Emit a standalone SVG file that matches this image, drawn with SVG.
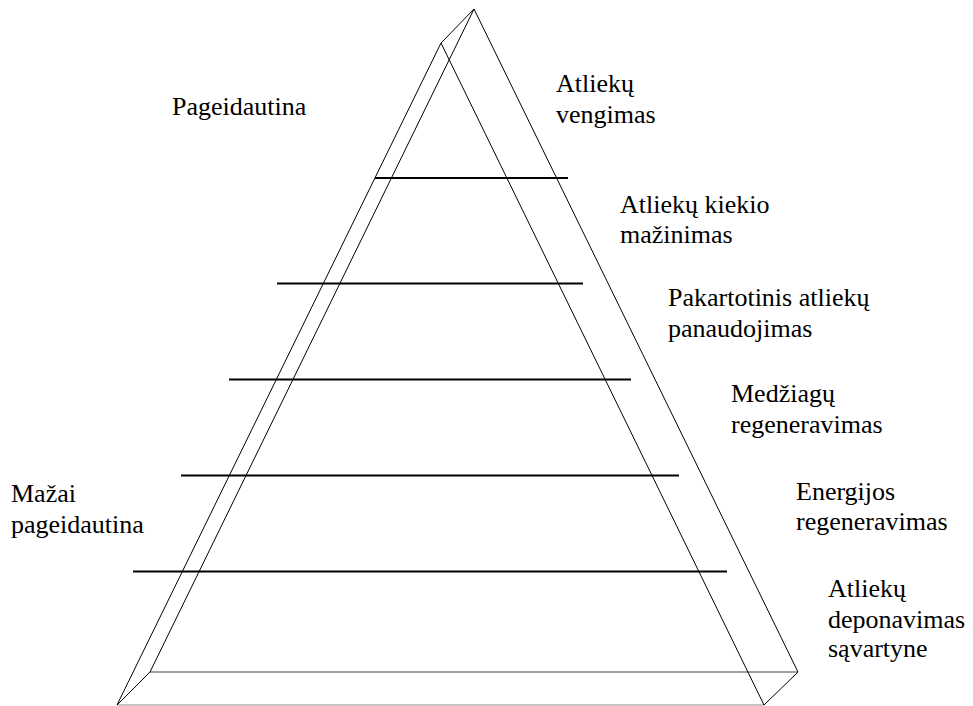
<svg xmlns="http://www.w3.org/2000/svg" width="973" height="706" viewBox="0 0 973 706">
<style>
.edge{stroke:#000;stroke-width:1;fill:none}
.hidden{stroke:#808080;stroke-width:1.5;fill:none}
.front{stroke:#b0b0b0;stroke-width:1.5;fill:none}
.level{stroke:#000;stroke-width:2;fill:none}
.lbl{font-family:'Liberation Serif','Times New Roman',serif;font-size:26px;fill:#000}
</style>
<rect width="973" height="706" fill="#fff"/>
<g id="pyramid">
<line class="hidden" x1="150" y1="672" x2="798" y2="672"/>
<line class="front" x1="117" y1="705" x2="764" y2="705"/>
<line class="edge" x1="474" y1="9" x2="441" y2="43"/>
<line class="edge" x1="474" y1="9" x2="150" y2="672"/>
<line class="edge" x1="474" y1="9" x2="798" y2="672"/>
<line class="edge" x1="441" y1="43" x2="117" y2="705"/>
<line class="edge" x1="441" y1="43" x2="764" y2="705"/>
<line class="edge" x1="117" y1="705" x2="150" y2="672"/>
<line class="edge" x1="764" y1="705" x2="798" y2="672"/>
</g>
<g id="levels">
<line class="level" x1="375" y1="178" x2="568" y2="178"/>
<line class="level" x1="277" y1="283.5" x2="583" y2="283.5"/>
<line class="level" x1="229" y1="379.5" x2="631" y2="379.5"/>
<line class="level" x1="181" y1="475.5" x2="679" y2="475.5"/>
<line class="level" x1="133" y1="571.5" x2="727" y2="571.5"/>
</g>
<g id="label-pageidautina"><text class="lbl" x="172" y="115">Pageidautina</text></g>
<g id="label-maziai"><text class="lbl" x="11" y="502">Mažai</text><text class="lbl" x="11" y="533">pageidautina</text></g>
<g id="label-vengimas"><text class="lbl" x="556" y="92">Atliekų</text><text class="lbl" x="556" y="123">vengimas</text></g>
<g id="label-mazinimas"><text class="lbl" x="620" y="213">Atliekų kiekio</text><text class="lbl" x="620" y="243">mažinimas</text></g>
<g id="label-panaudojimas"><text class="lbl" x="668" y="306">Pakartotinis atliekų</text><text class="lbl" x="668" y="337">panaudojimas</text></g>
<g id="label-medziagu"><text class="lbl" x="731" y="402">Medžiagų</text><text class="lbl" x="731" y="433">regeneravimas</text></g>
<g id="label-energijos"><text class="lbl" x="796" y="500">Energijos</text><text class="lbl" x="796" y="530">regeneravimas</text></g>
<g id="label-deponavimas"><text class="lbl" x="828" y="597">Atliekų</text><text class="lbl" x="828" y="628">deponavimas</text><text class="lbl" x="828" y="657">sąvartyne</text></g>
</svg>
